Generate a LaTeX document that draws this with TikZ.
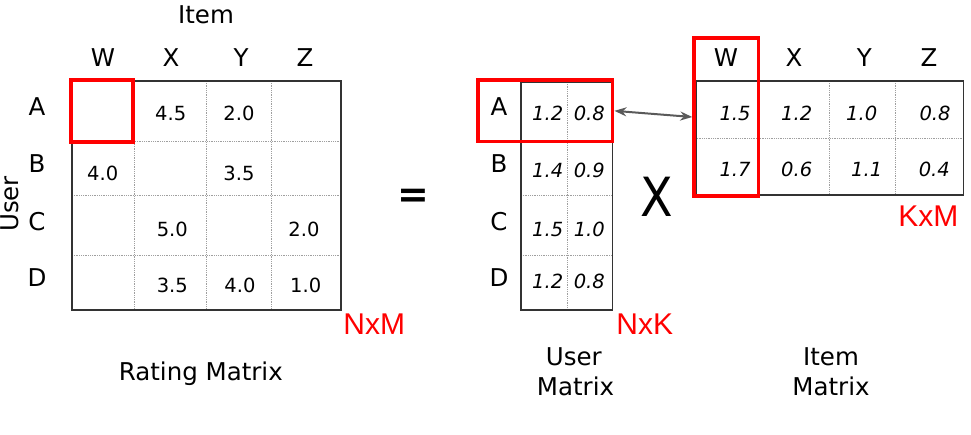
\documentclass[tikz,border=0pt]{standalone}
\usepackage{fontspec}
\setmainfont{DejaVu Sans}
\newfontfamily\libsans{Liberation Sans}
\usetikzlibrary{arrows.meta}
\definecolor{arrowgray}{HTML}{5A5A5A}
\tikzset{
  lbl/.style={inner sep=0pt, anchor=base, font=\fontsize{24.5}{29}\selectfont},
  num/.style={inner sep=0pt, anchor=base, font=\fontsize{19.5}{23}\selectfont},
  inum/.style={inner sep=0pt, anchor=base, font=\fontsize{19.5}{23}\selectfont\itshape},
  redlbl/.style={inner sep=0pt, anchor=base, text=red, font=\libsans\fontsize{30}{34}\selectfont},
  redbox/.style={draw=red, line width=3.5pt, inner sep=0pt},
  dotline/.style={draw=gray!75, densely dotted, line width=0.8pt},
  border/.style={draw=black!80, line width=1.5pt},
}
\begin{document}
\begin{tikzpicture}[x=1pt,y=-1pt]
\useasboundingbox (0,0) rectangle (971,434);

% ---------------- Rating matrix ----------------
\draw[dotline] (134.7,81) -- (134.7,310) (206.3,81) -- (206.3,310) (271.7,81) -- (271.7,310);
\draw[dotline] (72,141.7) -- (341,141.7) (72,195.7) -- (341,195.7) (72,255.7) -- (341,255.7);
\draw[border] (72,81) rectangle (341,310);
\node[redbox, minimum width=62pt, minimum height=62pt] (rA) at (102,111) {};

\node[lbl] (item) at (206,23) {Item};
\node[lbl] (cW) at (103,66) {W};
\node[lbl] (cX) at (171,66) {X};
\node[lbl] (cY) at (241,66) {Y};
\node[lbl] (cZ) at (305,66) {Z};
\node[lbl] (rlA) at (37,115) {A};
\node[lbl] (rlB) at (37,172.7) {B};
\node[lbl] (rlC) at (37,230) {C};
\node[lbl] (rlD) at (37,286) {D};
\node[lbl, rotate=90] (user) at (18.5,204) {User};

\node[num] (vAX) at (170.7,120.7) {4.5};
\node[num] (vAY) at (239,120.7) {2.0};
\node[num] (vBW) at (102.7,180) {4.0};
\node[num] (vBY) at (239,180) {3.5};
\node[num] (vCX) at (172.3,236.7) {5.0};
\node[num] (vCZ) at (304,236.7) {2.0};
\node[num] (vDX) at (172.3,292.3) {3.5};
\node[num] (vDY) at (240,292.3) {4.0};
\node[num] (vDZ) at (305.7,292.3) {1.0};

\node[redlbl] (nxm) at (374.3,334.3) {NxM};
\node[lbl] (rating) at (200.8,380.7) {Rating Matrix};

% equals sign
\node[inner sep=0pt, font=\bfseries\fontsize{38}{42}\selectfont] (eq) at (413,198.3) {=};

% ---------------- User matrix ----------------
\draw[dotline] (567.3,82) -- (567.3,310);
\draw[dotline] (521,195) -- (612.7,195) (521,255.7) -- (612.7,255.7);
\draw[border] (521,82) rectangle (612.7,310);
\node[redbox, minimum width=134.7pt, minimum height=61.7pt] (uA) at (545.35,110.85) {};

\node[lbl] (ulA) at (499,115) {A};
\node[lbl] (ulB) at (499,172.3) {B};
\node[lbl] (ulC) at (499,230) {C};
\node[lbl] (ulD) at (499,286) {D};
\node[inum] (u11) at (547.7,120.7) {1.2};
\node[inum] (u12) at (589.3,120.7) {0.8};
\node[inum] (u21) at (547.7,177.7) {1.4};
\node[inum] (u22) at (589.3,177.7) {0.9};
\node[inum] (u31) at (547.7,236.7) {1.5};
\node[inum] (u32) at (589.3,236.7) {1.0};
\node[inum] (u41) at (547.7,288.3) {1.2};
\node[inum] (u42) at (589.3,288.3) {0.8};

\node[redlbl] (nxk) at (644.7,334.3) {NxK};
\node[lbl] (um1) at (573.8,365) {User};
\node[lbl] (um2) at (575.5,395) {Matrix};

% times sign
\node[inner sep=0pt, anchor=base, font=\fontsize{54}{58}\selectfont] (times) at (657,216) {\scalebox{0.88}[1]{X}};

% ---------------- Item matrix ----------------
\draw[dotline] (829,81) -- (829,195) (895,81) -- (895,195);
\draw[dotline] (696.7,138.3) -- (963.3,138.3);
\draw[border] (696.7,81) rectangle (963.3,195);
\node[redbox, minimum width=64.7pt, minimum height=158pt] (iW) at (726.35,117) {};

\node[lbl] (iW1) at (726,66) {W};
\node[lbl] (iX1) at (794,66) {X};
\node[lbl] (iY1) at (864.3,66) {Y};
\node[lbl] (iZ1) at (929,66) {Z};
\node[inum] (i11) at (735,120) {1.5};
\node[inum] (i12) at (796.7,120) {1.2};
\node[inum] (i13) at (861.7,120) {1.0};
\node[inum] (i14) at (935,120) {0.8};
\node[inum] (i21) at (735,176.7) {1.7};
\node[inum] (i22) at (796.7,176.7) {0.6};
\node[inum] (i23) at (866.7,176.7) {1.1};
\node[inum] (i24) at (934.3,176.7) {0.4};

\node[redlbl] (kxm) at (928.3,226) {KxM};
\node[lbl] (im1) at (831,365) {Item};
\node[lbl] (im2) at (831,395) {Matrix};

% double arrow
\draw[arrowgray, line width=2pt, {Stealth[length=12pt,width=9pt]}-{Stealth[length=12pt,width=9pt]}] (uA.east) -- (iW.west);
\end{tikzpicture}
\end{document}
